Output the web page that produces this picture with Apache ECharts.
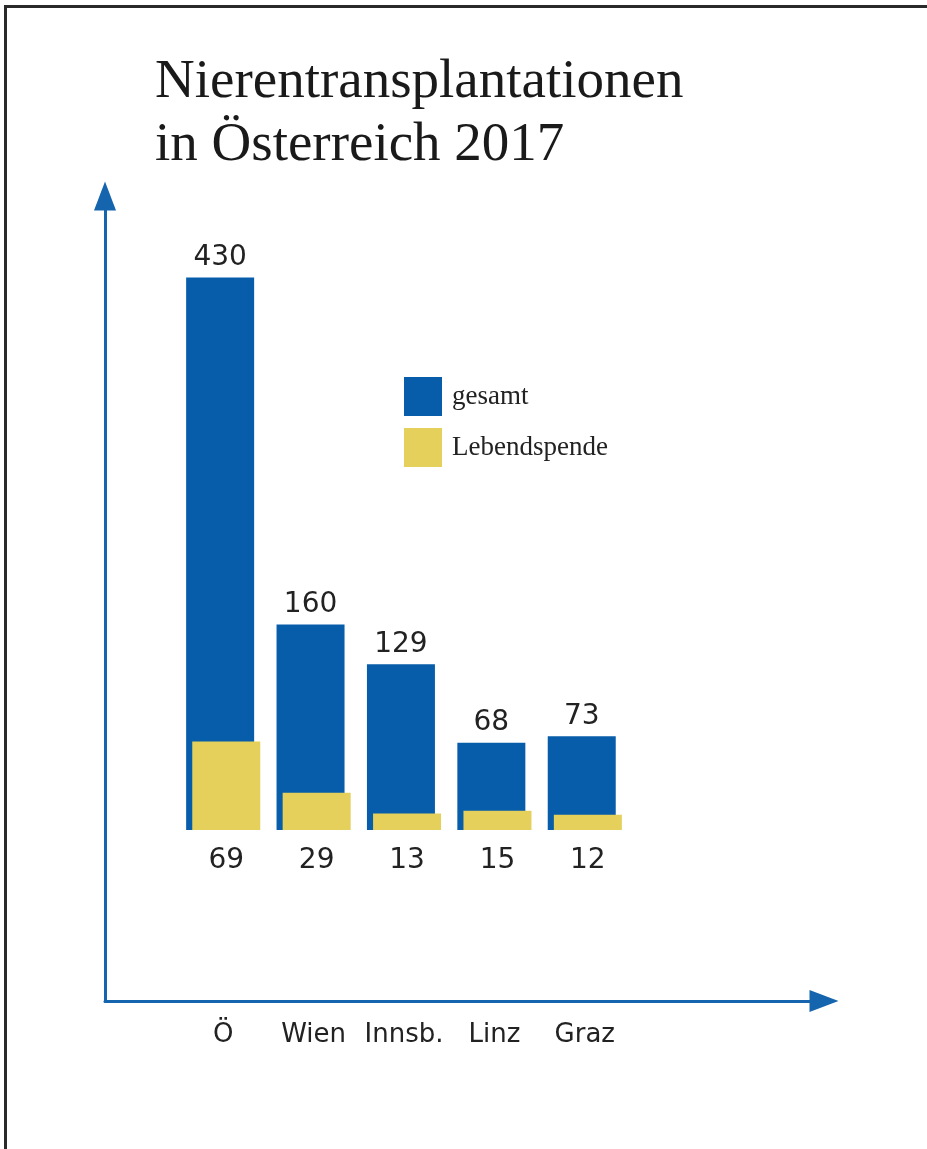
<!DOCTYPE html>
<html>
<head>
<meta charset="utf-8">
<script src="https://cdn.jsdelivr.net/npm/echarts@6/dist/echarts.min.js"></script>
<style>
  html, body { margin: 0; padding: 0; background: #fff; }
  #myChart { position: absolute; left: 0; top: 0; width: 927px; height: 1149px; }
  #frame { position: absolute; left: 4px; top: 5px; width: 940px; height: 1160px;
           border-left: 3px solid #2a2a2a; border-top: 3px solid #2a2a2a; pointer-events: none; }
</style>
</head>
<body>
<div id="myChart"></div>
<div id="frame"></div>
<script>
// data
var categories = ['Ö', 'Wien', 'Innsb.', 'Linz', 'Graz'];
var gesamt = [430, 160, 129, 68, 73];
var lebendspende = [69, 29, 13, 15, 12];

var blue = '#075da9';
var yellow = '#e4d05b';
var arrowBlue = '#1464ae';
var numFont = 'DejaVu Sans';

var chartDom = document.getElementById('myChart');
var myChart = echarts.init(chartDom, null, { renderer: 'canvas' });

// axis line with a plain triangle head (symbol is centred on the line end)
var arrowLine = {
  show: true,
  onZero: false,
  symbol: ['none', 'triangle'],
  symbolSize: [22, 29],
  lineStyle: { color: arrowBlue, width: 3 }
};

var option = {
  animation: false,
  title: {
    text: 'Nierentransplantationen\nin Österreich 2017',
    left: 150,
    top: 46,
    textStyle: {
      fontFamily: 'Liberation Serif',
      fontSize: 55,
      fontWeight: 'normal',
      color: '#1a1a1a',
      lineHeight: 63
    }
  },
  legend: {
    data: ['gesamt', 'Lebendspende'],
    orient: 'vertical',
    left: 404,
    top: 377,
    padding: 0,
    itemWidth: 38,
    itemHeight: 39,
    itemGap: 12,
    icon: 'rect',
    textStyle: {
      fontFamily: 'Liberation Serif',
      fontSize: 27,
      color: '#222',
      padding: [0, 0, 0, 5]
    }
  },
  grid: [
    // bars
    { left: 178, right: 297, top: 185, bottom: 148 },
    // arrows
    { left: 105, right: 103, top: 196, bottom: 148 }
  ],
  xAxis: [
    {
      gridIndex: 0,
      type: 'category',
      data: categories,
      axisLine: { show: false, onZero: false },
      axisTick: { show: false },
      axisLabel: {
        interval: 0,
        margin: 21,
        fontFamily: numFont,
        fontSize: 26,
        color: '#222'
      }
    },
    {
      gridIndex: 1,
      type: 'value',
      min: 0,
      max: 1,
      axisLine: arrowLine,
      axisTick: { show: false },
      axisLabel: { show: false },
      splitLine: { show: false }
    }
  ],
  yAxis: [
    {
      gridIndex: 0,
      type: 'value',
      min: -133,
      max: 502,
      show: false,
      splitLine: { show: false }
    },
    {
      gridIndex: 1,
      type: 'value',
      min: 0,
      max: 1,
      axisLine: arrowLine,
      axisTick: { show: false },
      axisLabel: { show: false },
      splitLine: { show: false }
    }
  ],
  series: [
    {
      name: 'gesamt',
      type: 'bar',
      xAxisIndex: 0,
      yAxisIndex: 0,
      data: gesamt,
      barWidth: 68,
      barGap: '-91%',
      itemStyle: { color: blue },
      label: {
        show: true,
        position: 'top',
        distance: 6,
        fontFamily: numFont,
        fontSize: 28,
        color: '#222'
      }
    },
    {
      name: 'Lebendspende',
      type: 'bar',
      xAxisIndex: 0,
      yAxisIndex: 0,
      data: lebendspende,
      barWidth: 68,
      itemStyle: { color: yellow },
      label: {
        show: true,
        position: 'bottom',
        distance: 17,
        fontFamily: numFont,
        fontSize: 28,
        color: '#222'
      }
    }
  ]
};

option && myChart.setOption(option);
</script>
</body>
</html>
